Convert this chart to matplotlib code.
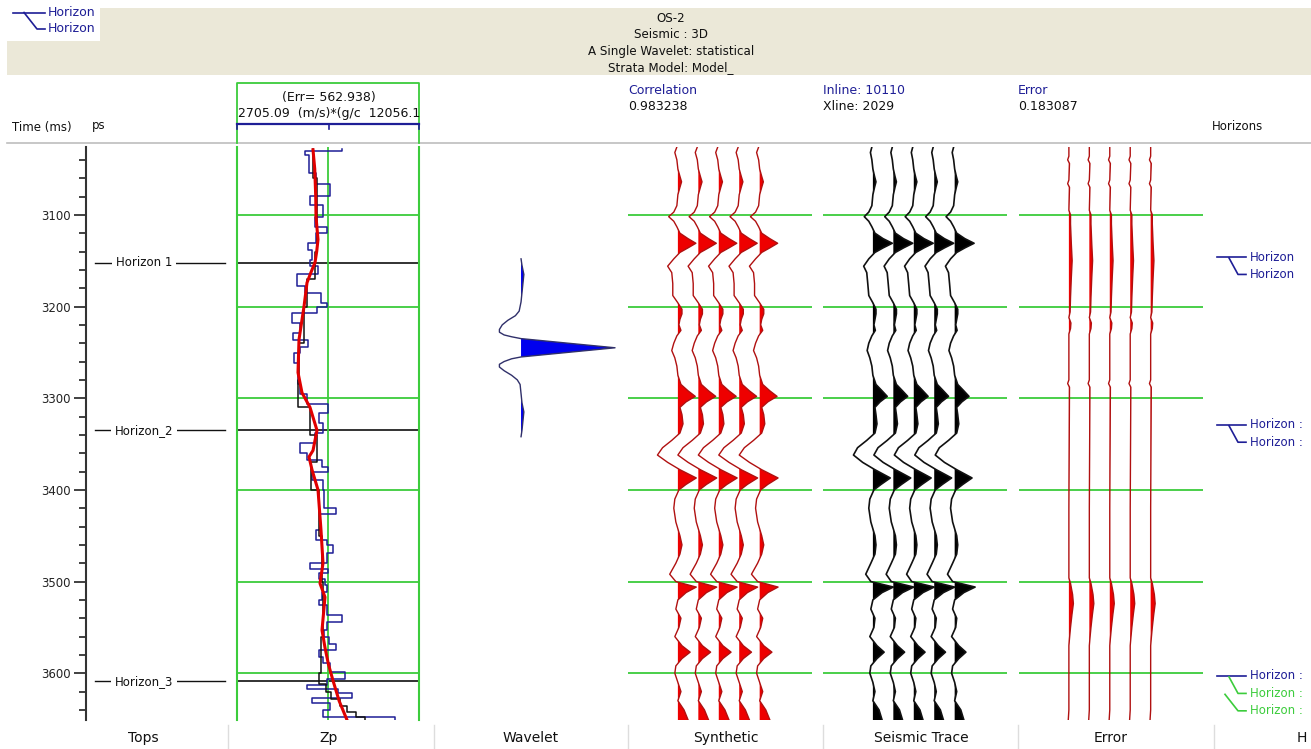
import numpy as np
import matplotlib.pyplot as plt
from matplotlib.patches import Rectangle

W, H = 1311, 749
T_TOP, T_BOT = 3026, 3651
NAVY = '#1e1e96'
GREEN = '#3ccc3c'

# ---- data ----
time_ticks = [3100, 3200, 3300, 3400, 3500, 3600]
tops_names = ['Horizon 1', 'Horizon_2', 'Horizon_3']
tops_times = [3152, 3335, 3609]

# Zp blocky log (block top time, value)
zp_blk_t = [3028, 3030, 3035, 3054, 3066, 3079, 3089, 3102, 3113, 3120, 3131, 3138,
            3149, 3156, 3164, 3178, 3185, 3196, 3200, 3207, 3218, 3229, 3236, 3244,
            3251, 3262, 3284, 3295, 3306, 3316, 3327, 3338, 3349, 3360, 3367, 3375,
            3380, 3389, 3400, 3420, 3426, 3444, 3455, 3460, 3469, 3480, 3486, 3491,
            3497, 3504, 3511, 3520, 3526, 3537, 3544, 3553, 3560, 3568, 3575, 3582,
            3589, 3599, 3606, 3613, 3617, 3622, 3627, 3633, 3640, 3648, 3651]
zp_blk_v = [8100, 6199, 6400, 6764, 7483, 6456, 7124, 6713, 7329, 6764, 6353, 6559,
            6456, 6867, 5788, 6199, 7021, 7329, 6815, 5531, 5942, 5582, 6353, 5942,
            5634, 5839, 5942, 6302, 7381, 6918, 7124, 6713, 5942, 6302, 7072, 7381,
            6559, 7124, 7175, 7792, 6970, 6764, 7329, 7637, 7329, 6456, 7381, 6918,
            7226, 7329, 7072, 6918, 7329, 8100, 7329, 7175, 7432, 7792, 6918, 7124,
            7483, 8254, 7329, 6302, 7894, 8614, 6559, 7483, 7124, 10823]

# Zp second (black) log, block tops and values
zp2_t = [3028, 3060, 3100, 3140, 3170, 3200, 3240, 3280, 3310, 3340, 3370, 3400,
         3450, 3500, 3560, 3600, 3612, 3620, 3628, 3636, 3642, 3648, 3651]
zp2_v = [6600, 6800, 6800, 6700, 6300, 6150, 5900, 5850, 6450, 6800, 6500, 6900,
         7050, 7100, 7000, 6900, 7300, 7550, 8000, 8350, 8800, 9300]

# Zp smooth model (red)
zp_red_t = [3029, 3050, 3080, 3102, 3127, 3140, 3152, 3163, 3174, 3200, 3236, 3272,
            3294, 3310, 3335, 3357, 3364, 3378, 3400, 3444, 3480, 3502, 3517, 3553,
            3572, 3590, 3608, 3630, 3651]
zp_red_v = [6610, 6700, 6750, 6764, 6867, 6800, 6713, 6500, 6302, 6148, 5891, 5839,
            6045, 6456, 6815, 6610, 6404, 6558, 6867, 7021, 7124, 6970, 7226, 7073,
            7226, 7400, 7638, 7950, 8357]

# wavelet (ms offset from centre, normalised amplitude)
wav_center = 3245
wav_off = [-97, -90, -80, -70, -60, -50, -40, -35, -30, -25, -20, -17, -14, -12, -10,
           -8, -6, -4, -2, 0, 2, 4, 6, 8, 10, 12, 15, 18, 21, 25, 30, 35, 40, 50,
           60, 70, 80, 90, 97]
wav_amp = [0.0, 0.01, 0.03, 0.02, 0.01, 0.0, -0.02, -0.06, -0.14, -0.2, -0.23, -0.23,
           -0.18, -0.1, 0.0, 0.2, 0.4, 0.6, 0.8, 1.0, 0.8, 0.6, 0.4, 0.2, 0.0, -0.1,
           -0.18, -0.23, -0.23, -0.18, -0.1, -0.04, -0.01, 0.0, 0.01, 0.03, 0.02, 0.01, 0.0]

# synthetic trace (time, amplitude in trace spacings)
syn_t = [3026, 3032, 3040, 3050, 3058, 3064, 3070, 3078, 3090, 3097, 3102, 3107,
         3113, 3120, 3126, 3131, 3136, 3141, 3148, 3156, 3163, 3175, 3188, 3196,
         3203, 3208, 3214, 3220, 3226, 3232, 3240, 3248, 3256, 3265, 3275, 3285,
         3292, 3298, 3304, 3310, 3318, 3328, 3338, 3346, 3354, 3362, 3370, 3378,
         3387, 3394, 3400, 3410, 3420, 3435, 3450, 3460, 3470, 3480, 3492, 3500,
         3506, 3512, 3520, 3530, 3540, 3550, 3560, 3570, 3577, 3584, 3592, 3600,
         3610, 3620, 3630, 3640, 3651]
syn_a = [-0.05, -0.15, -0.05, 0.0, 0.1, 0.18, 0.1, 0.0, -0.05, -0.2, -0.45, -0.2,
         -0.05, 0.1, 0.5, 0.88, 0.5, 0.1, -0.2, -0.5, -0.3, -0.25, -0.25, 0.0,
         0.2, 0.2, 0.1, 0.05, 0.15, -0.05, -0.2, -0.3, -0.15, -0.05, 0.0, 0.15,
         0.5, 0.85, 0.4, 0.1, 0.2, 0.25, 0.1, -0.3, -0.75, -1.0, -0.5, 0.1,
         0.9, 0.4, 0.05, -0.15, -0.2, -0.1, 0.1, 0.2, 0.1, -0.1, -0.4, -0.1,
         0.9, 0.4, 0.0, -0.1, 0.15, 0.05, -0.15, 0.2, 0.6, 0.2, -0.1, -0.15,
         0.0, 0.15, 0.0, 0.3, 0.5]

# seismic trace
sei_t = syn_t
sei_a = [-0.05, -0.12, -0.05, 0.0, 0.08, 0.15, 0.08, 0.0, -0.05, -0.2, -0.42, -0.2,
         -0.05, 0.1, 0.5, 0.95, 0.5, 0.1, -0.2, -0.45, -0.3, -0.25, -0.2, 0.0,
         0.15, 0.15, 0.1, 0.05, 0.12, -0.05, -0.2, -0.28, -0.15, -0.05, 0.0, 0.15,
         0.45, 0.7, 0.35, 0.1, 0.15, 0.2, 0.1, -0.3, -0.75, -0.95, -0.5, 0.1,
         0.85, 0.4, 0.05, -0.15, -0.2, -0.1, 0.1, 0.15, 0.1, -0.1, -0.35, -0.1,
         1.0, 0.45, 0.0, -0.1, 0.1, 0.05, -0.15, 0.2, 0.55, 0.2, -0.1, -0.15,
         0.0, 0.1, 0.0, 0.3, 0.45]

# error trace
err_t = [3026, 3036, 3040, 3044, 3062, 3066, 3070, 3095, 3100, 3110, 3132, 3150,
         3168, 3190, 3206, 3212, 3218, 3224, 3230, 3280, 3284, 3288, 3420, 3496,
         3502, 3514, 3524, 3536, 3550, 3562, 3570, 3640, 3651]
err_a = [0.0, 0.0, -0.06, 0.03, 0.0, -0.06, 0.03, 0.0, 0.08, 0.08, 0.12, 0.16,
         0.12, 0.08, 0.06, 0.0, 0.1, 0.08, 0.0, 0.0, -0.06, 0.03, 0.0, 0.0,
         0.08, 0.18, 0.22, 0.15, 0.08, 0.03, 0.0, 0.0, -0.03]

# ---- figure ----
fig = plt.figure(figsize=(W / 100, H / 100), dpi=100)
plt.rcParams['font.family'] = ['DejaVu Sans']


def px_axes(x0, y0, x1, y1, z=1):
    ax = fig.add_axes([x0 / W, 1 - y1 / H, (x1 - x0) / W, (y1 - y0) / H], zorder=z)
    ax.patch.set_alpha(0)
    return ax


# background / header overlay in pixel units
bg = px_axes(0, 0, W, H, z=0)
bg.set_xlim(0, W)
bg.set_ylim(H, 0)
bg.axis('off')
bg.add_patch(Rectangle((7, 8), W, 67, color='#ebe8d8', lw=0))
bg.add_patch(Rectangle((0, 0), 100, 41, color='white', lw=0))
bg.plot([13, 45], [12.5, 12.5], color=NAVY, lw=1.2)
bg.plot([24, 37, 45], [12.5, 29, 29], color=NAVY, lw=1.2)
bg.text(48, 12.5, 'Horizon', color=NAVY, fontsize=9, va='center')
bg.text(48, 29, 'Horizon', color=NAVY, fontsize=9, va='center')

for i, s in enumerate(['OS-2', 'Seismic : 3D', 'A Single Wavelet: statistical',
                       'Strata Model: Model_']):
    bg.text(671, 18 + i * 16.5, s, fontsize=8.6, ha='center', va='center', color='#111')

bg.plot([7, W], [142.5, 142.5], color='#bdbdbd', lw=1.2)
bg.text(12, 128, 'Time (ms)', fontsize=8.5, va='center', color='#111')
bg.text(92, 125, 'ps', fontsize=8.5, va='center', color='#111')

# Zp header box
bg.plot([237, 237, 419, 419], [143, 83, 83, 143], color=GREEN, lw=1.3)
bg.text(329, 97, '(Err= 562.938)', fontsize=9, ha='center', va='center', color='#111')
bg.text(238, 113, '2705.09  (m/s)*(g/c  12056.1', fontsize=9, va='center', color='#111')
bg.plot([237, 419], [124, 124], color=NAVY, lw=1.6)
for xx in (237, 329, 419):
    bg.plot([xx, xx], [124, 129], color=NAVY, lw=1.2)

for x, (h1, h2) in zip([628, 823, 1018], [('Correlation', '0.983238'),
                                          ('Inline: 10110', 'Xline: 2029'),
                                          ('Error', '0.183087')]):
    bg.text(x, 91, h1, fontsize=9, va='center', color=NAVY)
    bg.text(x, 107, h2, fontsize=9, va='center', color='#111')
bg.text(1212, 126, 'Horizons', fontsize=8.5, va='center', color='#111')

# bottom labels
for xx in [228, 434, 628, 823, 1018, 1214]:
    bg.plot([xx, xx], [725, 749], color='#dddddd', lw=1)
for xx, s in zip([143, 329, 531, 726, 921, 1111], ['Tops', 'Zp', 'Wavelet', 'Synthetic',
                                                    'Seismic Trace', 'Error']):
    bg.text(xx, 738, s, fontsize=10, ha='center', va='center', color='#111')
bg.text(1297, 738, 'H', fontsize=10, va='center', color='#111')


def time_axes(x0, x1):
    ax = px_axes(x0, 147, x1, 720)
    ax.set_ylim(T_BOT, T_TOP)
    for s in ax.spines.values():
        s.set_visible(False)
    ax.set_xticks([])
    ax.set_yticks([])
    return ax


# tops track with time axis
ax = time_axes(86, 229)
ax.set_xlim(86, 229)
ax.spines['left'].set_visible(True)
ax.spines['left'].set_color('#333')
ax.spines['left'].set_linewidth(1.5)
ax.set_yticks(time_ticks)
ax.set_yticks(np.arange(3040, 3651, 20), minor=True)
ax.tick_params(axis='y', which='major', length=9, width=1.3, color='#333',
               labelsize=8.5, labelcolor='#222', pad=2)
ax.tick_params(axis='y', which='minor', length=5, width=1.3, color='#333')
for name, t in zip(tops_names, tops_times):
    ax.plot([95, 225], [t, t], color='#111', lw=1)
    ax.text(144, t, name, fontsize=8.5, ha='center', va='center', color='#111',
            bbox=dict(facecolor='white', edgecolor='none', pad=2.5))

# Zp track
ax = time_axes(237, 419)
ax.set_xlim(2705.09, 12056.1)
for s in ('left', 'right'):
    ax.spines[s].set_visible(True)
    ax.spines[s].set_color(GREEN)
    ax.spines[s].set_linewidth(1.5)
for t in time_ticks:
    ax.axhline(t, color=GREEN, lw=1.3)
for t in tops_times:
    ax.axhline(t, color='#222', lw=1.3)
ax.axvline((2705.09 + 12056.1) / 2, color=GREEN, lw=1.3)
bt = np.repeat(zp_blk_t, 2)[1:-1]
bv = np.repeat(zp_blk_v, 2)
ax.plot(bv, bt, color=NAVY, lw=1.1)
bt2 = np.repeat(zp2_t, 2)[1:-1]
bv2 = np.repeat(zp2_v, 2)
ax.plot(bv2, bt2, color='#111', lw=1.1)
ax.plot(zp_red_v, zp_red_t, color='#e00000', lw=2.2)

# wavelet track
ax = time_axes(434, 628)
ax.set_xlim(-0.926, 1.138)
wt = wav_center + np.array(wav_off)
wa = np.array(wav_amp)
ax.fill_betweenx(wt, 0, wa, where=wa > 0, interpolate=True, color='#0000ee', lw=0)
ax.plot(wa, wt, color='#30306a', lw=1)


def trace_track(x0, x1, t, a, line, fill, lw=1.0):
    ax = time_axes(x0, x1)
    ax.set_xlim(-1.44, 7.56)
    for tt in time_ticks:
        ax.axhline(tt, color=GREEN, lw=1.3, zorder=0)
    t = np.array(t)
    a = np.array(a)
    for k in range(1, 6):
        ax.fill_betweenx(t, k, k + a, where=a > 0, interpolate=True, color=fill, lw=0)
        ax.plot(k + a, t, color=line, lw=lw)
    return ax


trace_track(628, 812, syn_t, syn_a, '#b01010', '#ee0000')
trace_track(823, 1007, sei_t, sei_a, '#111111', '#000000', lw=1.2)
trace_track(1019, 1203, err_t, err_a, '#b01010', '#ee0000')

# horizons legend on the right
ax = px_axes(1214, 147, W, 720, z=2)
ax.set_ylim(T_BOT, T_TOP)
ax.set_xlim(1214, W)
ax.axis('off')
legend_rows = [(3152, [(NAVY, 'Horizon'), (NAVY, 'Horizon')]),
               (3335, [(NAVY, 'Horizon :'), (NAVY, 'Horizon :')]),
               (3609, [(NAVY, 'Horizon :'), (GREEN, 'Horizon :'), (GREEN, 'Horizon :')])]
for t, items in legend_rows:
    step = 19
    y0 = t - 6
    for j, (c, lab) in enumerate(items):
        yy = y0 + j * step
        if j == 0:
            ax.plot([1217, 1246], [yy, yy], color=c, lw=1.2)
        else:
            ax.plot([1229 - 4 * (j - 1), 1238, 1246], [y0 + (j - 1) * step + 1, yy, yy],
                    color=c, lw=1.2)
        ax.text(1250, yy, lab, fontsize=8.5, va='center', color=c)

fig.savefig('out.png', dpi=100)
